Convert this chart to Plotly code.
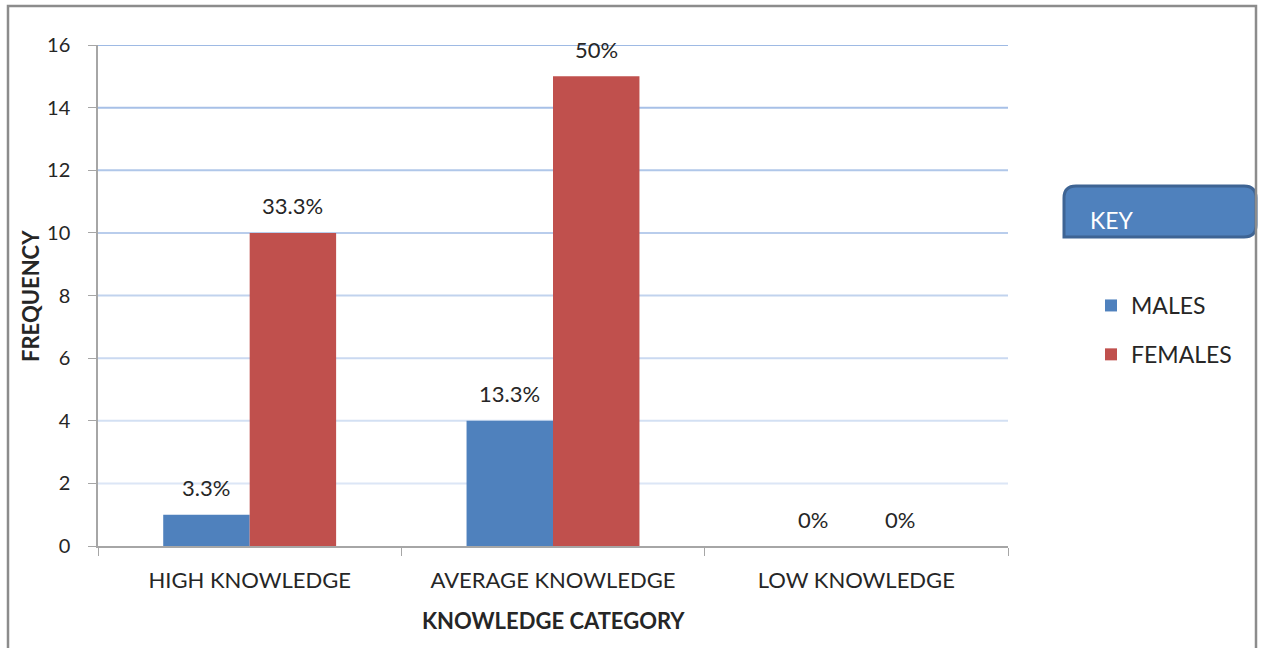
import plotly.graph_objects as go

# Knowledge level by gender (n = 30)
categories = ["HIGH KNOWLEDGE", "AVERAGE KNOWLEDGE", "LOW KNOWLEDGE"]
males = [1, 4, 0]
females = [10, 15, 0]
males_pct = ["3.3%", "13.3%", "0%"]
females_pct = ["33.3%", "50%", "0%"]
y_ticks = [0, 2, 4, 6, 8, 10, 12, 14, 16]

MALE_COLOR = "#4F81BD"
FEMALE_COLOR = "#C0504D"
TEXT_COLOR = "#262626"
FONT = "Lato"

W, H = 1261, 648
L, R, T, B = 98, 1008, 45, 546  # plot area in pixels


def px_x(p):
    return (p - L) / (R - L)


def px_y(p):
    return (B - p) / (B - T)


fig = go.Figure()
fig.add_trace(go.Bar(x=categories, y=males, name="MALES", marker_color=MALE_COLOR,
                     marker_line_width=0, legendgroup="m"))
fig.add_trace(go.Bar(x=categories, y=females, name="FEMALES", marker_color=FEMALE_COLOR,
                     marker_line_width=0, legendgroup="f"))

bargap = 0.43
half = (1 - bargap) / 4  # offset of each bar centre from the category centre

annotations = []
for i, _ in enumerate(categories):
    for val, lab, off in ((males[i], males_pct[i], -half), (females[i], females_pct[i], half)):
        annotations.append(dict(x=i + off, y=val, xref="x", yref="y", text=lab,
                                showarrow=False, yanchor="middle", yshift=27,
                                font=dict(family=FONT, size=22, color=TEXT_COLOR)))

# axis titles
annotations.append(dict(x=0.5, y=px_y(620), xref="paper", yref="paper",
                        xanchor="center", yanchor="middle",
                        text="<b>KNOWLEDGE CATEGORY</b>", showarrow=False,
                        font=dict(family=FONT, size=22, color=TEXT_COLOR)))
annotations.append(dict(x=px_x(30), y=px_y(296), xref="paper", yref="paper",
                        xanchor="center", yanchor="middle",
                        text="<b>FREQUENCY</b>", showarrow=False, textangle=-90,
                        font=dict(family=FONT, size=22, color=TEXT_COLOR)))
# key heading
annotations.append(dict(x=px_x(1088), y=px_y(220), xref="paper", yref="paper",
                        text="KEY", showarrow=False, xanchor="left", yanchor="middle",
                        font=dict(family=FONT, size=23, color="white")))

shapes = []
# gridlines, fading toward the baseline
top_c = (158, 186, 228)
bot_c = (220, 230, 246)
n = len(y_ticks) - 1
for k, v in enumerate(y_ticks[1:], start=1):
    t = (n - k) / (n - 1)
    c = tuple(round(top_c[j] + (bot_c[j] - top_c[j]) * t) for j in range(3))
    shapes.append(dict(type="line", xref="paper", yref="y", x0=0, x1=1, y0=v, y1=v,
                       line=dict(color="rgb(%d,%d,%d)" % c, width=2), layer="below"))

# outer frame
shapes.append(dict(type="rect", xref="paper", yref="paper",
                   x0=px_x(8), x1=px_x(1256), y0=px_y(660), y1=px_y(6),
                   line=dict(color="#8C8C8C", width=2.5), layer="above"))

# rounded key box
x0, x1 = px_x(1064), px_x(1256)
y0, y1 = px_y(237), px_y(186)
rx, ry = 12 / (R - L), 12 / (B - T)
path = (f"M {x0 + rx},{y1} L {x1 - rx},{y1} Q {x1},{y1} {x1},{y1 - ry} "
        f"L {x1},{y0 + ry} Q {x1},{y0} {x1 - rx},{y0} L {x0},{y0} "
        f"L {x0},{y1 - ry} Q {x0},{y1} {x0 + rx},{y1} Z")
shapes.append(dict(type="path", xref="paper", yref="paper", path=path,
                   fillcolor=MALE_COLOR, line=dict(color="#3E6494", width=3), layer="below"))

fig.update_layout(
    width=W, height=H,
    margin=dict(l=L, r=W - R, t=T, b=H - B, pad=0),
    paper_bgcolor="white", plot_bgcolor="rgba(0,0,0,0)",
    barmode="group", bargap=bargap, bargroupgap=0,
    font=dict(family=FONT, size=18, color=TEXT_COLOR),
    showlegend=True,
    legend=dict(x=px_x(1091), y=px_y(284), xanchor="left", yanchor="top",
                font=dict(family=FONT, size=23, color=TEXT_COLOR),
                tracegroupgap=16, traceorder="grouped", itemwidth=30,
                bgcolor="rgba(0,0,0,0)"),
    annotations=annotations,
    shapes=shapes,
    xaxis=dict(showline=True, linecolor="#A6A6A6", linewidth=1.5,
               ticks="outside", ticklen=8, tickcolor="#A6A6A6", tickson="boundaries",
               showgrid=False, ticklabelstandoff=14,
               tickfont=dict(family=FONT, size=22, color=TEXT_COLOR)),
    yaxis=dict(range=[0, 16], tickvals=y_ticks, showline=True, linecolor="#A6A6A6",
               linewidth=1.5, ticks="outside", ticklen=8, tickcolor="#A6A6A6",
               showgrid=False, zeroline=False, ticklabelstandoff=14,
               tickfont=dict(family=FONT, size=20, color=TEXT_COLOR)),
)

fig.write_html("out.html")
